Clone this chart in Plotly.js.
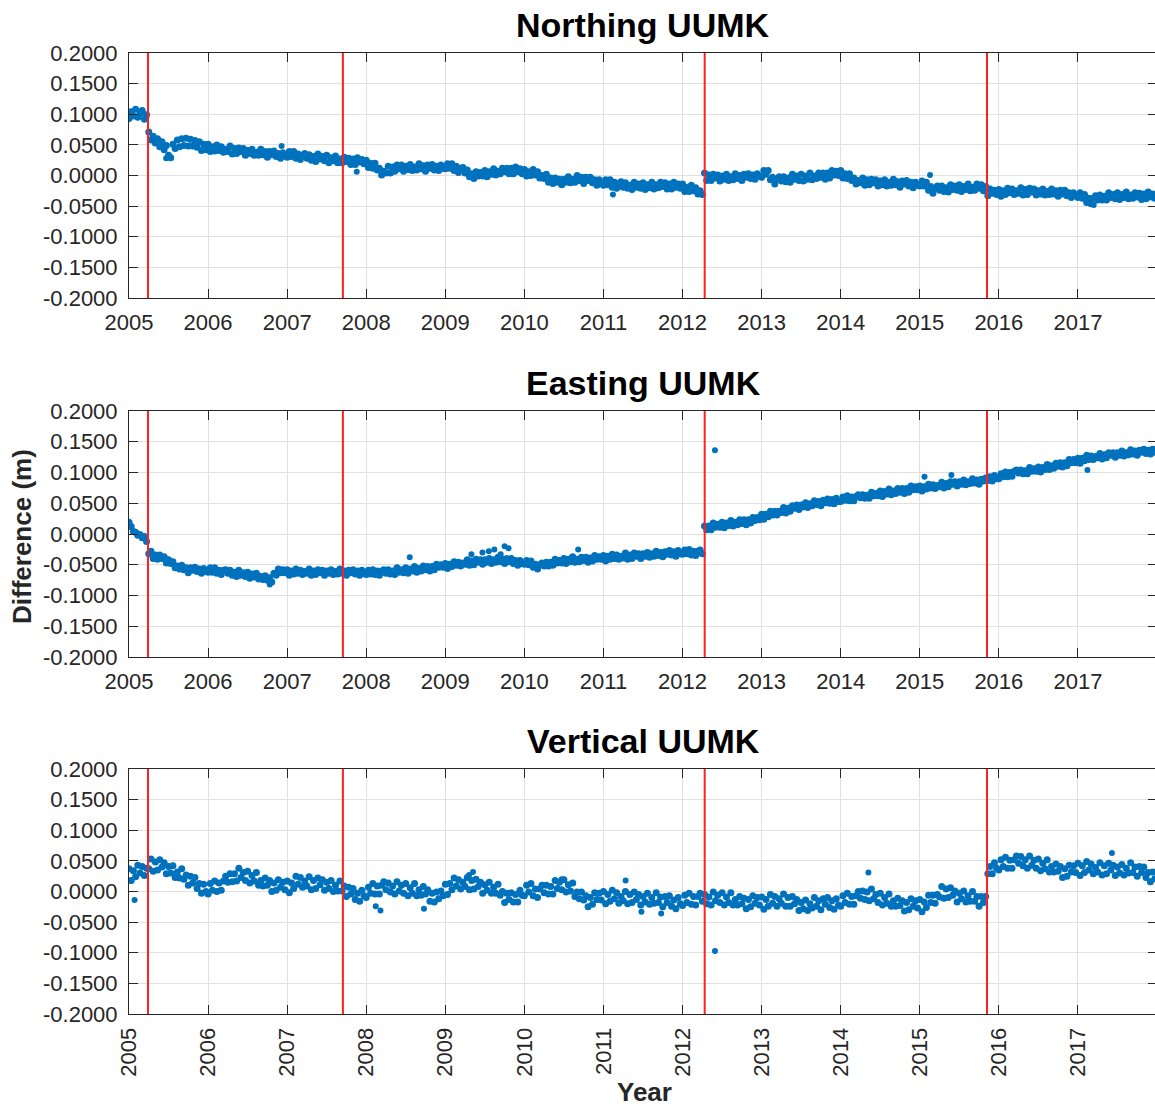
<!DOCTYPE html>
<html>
<head>
<meta charset="utf-8">
<script src="https://cdn.plot.ly/plotly-3.0.1.min.js"></script>
<style>
  html, body { margin: 0; padding: 0; background: #fff; overflow: hidden; }
  #chart { width: 1158px; height: 1107px; }
</style>
</head>
<body>
<div id="chart"></div>
<script>
// ---------------- DATA ----------------
// Time grid: samples every 1/36 year starting 2005.0 (468 samples per series)
const startYear = 2005;
const samplesPerYear = 36;

// Station offsets in millimetres (one row per year)
const northingMm = [
  93,104,97,108,95,101,106,92,99,71,58,64,53,60,47,55,42,49,33,29,51,44,58,47,60,49,61,48,59,48,57,46,55,41,51,42,
  51,39,47,40,50,41,47,38,43,39,48,35,44,36,45,39,44,33,41,36,43,33,38,33,43,34,39,30,39,34,40,31,36,28,37,32,
  30,39,31,39,28,35,26,33,36,28,34,25,31,23,35,27,31,24,33,21,29,24,32,21,27,21,30,23,28,18,27,18,29,22,26,19,
  25,13,20,12,20,9,12,1,7,4,15,4,14,7,17,11,17,7,15,10,18,8,14,9,19,11,16,7,17,12,18,9,15,8,17,12,
  11,19,12,19,8,15,5,12,13,4,9,-2,3,-5,6,-1,5,-1,8,-2,6,2,11,1,7,3,12,6,12,3,12,3,14,6,11,3,
  10,-1,6,0,10,1,6,-4,0,-5,2,-11,-4,-13,-4,-11,-6,-15,-6,-11,-2,-12,-6,-11,0,-8,-3,-13,-3,-8,-3,-12,-7,-16,-7,-13,
  -16,-7,-15,-7,-19,-11,-21,-13,-10,-19,-12,-21,-16,-23,-11,-19,-14,-21,-12,-23,-15,-20,-11,-22,-15,-20,-11,-18,-12,-22,-14,-22,-11,-19,-14,-21,
  -14,-26,-19,-26,-16,-25,-20,-30,-25,-31,4,-8,1,-8,2,-4,1,-9,-1,-6,2,-8,-2,-7,3,-5,0,-8,2,-3,3,-5,1,-6,3,-1,
  -3,8,2,8,-7,-3,-14,-6,-2,-9,-2,-10,-4,-11,2,-6,-1,-8,2,-9,-1,-6,4,-7,-1,-5,4,-3,4,-6,4,-4,8,1,7,0,
  8,-4,3,-5,3,-8,-4,-14,-8,-12,-4,-16,-7,-15,-6,-12,-7,-17,-9,-15,-7,-17,-11,-16,-6,-15,-10,-19,-9,-14,-8,-17,-11,-20,-11,-16,
  -17,-9,-17,-11,-24,-18,-29,-21,-17,-24,-17,-26,-20,-27,-15,-23,-17,-24,-15,-26,-18,-23,-14,-25,-19,-24,-14,-21,-15,-25,-18,-33,-22,-29,-24,-31,
  -23,-34,-25,-31,-21,-28,-22,-31,-25,-29,-20,-32,-23,-31,-21,-27,-22,-32,-25,-30,-22,-32,-26,-31,-22,-30,-25,-34,-24,-30,-24,-33,-28,-36,-28,-33,
  -36,-28,-37,-31,-44,-37,-46,-37,-33,-40,-32,-40,-34,-40,-28,-36,-31,-38,-28,-39,-31,-36,-27,-38,-32,-37,-28,-35,-29,-39,-30,-38,-27,-35,-30,-37
];

const eastingMm = [
  19,12,4,3,-2,-1,-6,-4,-12,-32,-28,-40,-34,-41,-34,-40,-37,-47,-42,-48,-45,-55,-52,-57,-51,-58,-55,-63,-55,-59,-54,-61,-57,-64,-56,-61,
  -62,-55,-62,-55,-64,-59,-66,-59,-58,-64,-59,-67,-62,-69,-59,-67,-63,-69,-62,-72,-65,-70,-64,-73,-69,-74,-68,-75,-71,-78,-64,-67,-57,-63,-58,-63,
  -58,-67,-60,-65,-57,-64,-59,-66,-61,-64,-57,-67,-60,-66,-58,-63,-59,-67,-60,-64,-58,-66,-61,-65,-57,-64,-60,-67,-59,-63,-58,-65,-60,-67,-59,-64,
  -66,-59,-65,-58,-66,-60,-67,-60,-58,-64,-58,-65,-60,-66,-55,-62,-58,-63,-55,-64,-57,-60,-53,-62,-56,-60,-52,-58,-53,-60,-53,-58,-49,-54,-50,-54,
  -48,-56,-49,-53,-45,-51,-46,-52,-47,-49,-42,-51,-44,-50,-41,-46,-42,-49,-42,-46,-40,-48,-42,-46,-38,-45,-41,-48,-40,-45,-40,-48,-43,-51,-43,-48,
  -49,-43,-50,-44,-54,-49,-57,-50,-47,-52,-46,-52,-46,-51,-41,-47,-43,-47,-40,-48,-41,-45,-37,-46,-41,-45,-38,-43,-38,-46,-39,-44,-35,-41,-37,-41,
  -35,-44,-36,-41,-33,-40,-34,-41,-36,-39,-31,-41,-34,-40,-31,-36,-32,-40,-32,-36,-30,-38,-32,-36,-28,-35,-30,-37,-29,-33,-27,-34,-29,-36,-27,-32,
  -33,-26,-32,-25,-34,-28,-35,-28,-26,-32,13,7,13,7,18,11,16,11,19,10,18,14,22,13,19,15,23,17,23,15,23,18,27,22,27,23,
  32,24,32,28,37,31,37,31,37,35,43,34,42,37,46,42,47,40,47,44,51,43,49,46,54,48,53,46,55,51,57,50,56,49,58,53,
  53,60,55,62,54,60,54,61,64,59,64,58,63,58,68,62,66,62,70,61,69,65,73,64,70,66,74,68,74,66,74,68,78,72,77,72,
  78,70,77,73,81,75,80,74,79,77,84,75,82,77,85,81,85,78,85,81,88,80,85,82,90,83,88,81,89,86,91,87,93,86,95,90,
  90,98,93,101,93,100,94,102,104,99,104,98,103,98,108,102,106,102,109,101,108,105,113,105,111,107,115,110,116,109,116,111,121,116,121,116,
  123,115,123,119,128,121,127,121,126,124,131,122,129,124,132,128,132,125,132,128,135,127,132,129,137,130,135,128,136,133,138,131,136,130,138,133
];

const verticalMm = [
  37,18,34,24,43,30,41,26,38,37,53,33,48,35,52,40,47,29,41,30,42,23,32,22,37,20,27,10,25,14,23,5,13,-3,12,0,
  -4,13,2,17,0,14,2,17,25,15,29,16,29,17,38,23,31,18,33,14,26,17,31,10,18,9,22,10,18,0,14,2,19,7,15,3,
  17,-2,14,5,25,12,23,7,17,9,24,3,18,5,22,11,19,2,15,5,18,0,10,1,17,1,9,-8,7,-4,5,-13,-3,-16,2,-7,
  -10,7,-3,13,-4,9,-4,10,16,3,14,-1,9,-4,16,1,10,-3,13,-7,6,-3,13,-7,3,-6,8,-4,3,-16,-3,-17,-1,-12,1,-7,
  12,-5,13,3,22,9,19,4,15,8,23,3,18,4,20,8,15,-3,11,2,15,-3,7,-3,12,-6,0,-18,-3,-13,-2,-17,-5,-17,2,-6,
  -7,10,-1,13,-7,4,-10,4,10,-2,10,-4,8,-4,18,5,15,3,19,-1,11,1,14,-8,-1,-12,-1,-14,-7,-25,-10,-21,-2,-13,-3,-14,
  0,-20,-5,-16,2,-12,-2,-19,-8,-15,0,-20,-5,-18,-1,-13,-5,-22,-8,-17,-3,-21,-10,-19,-2,-18,-9,-25,-8,-18,-7,-24,-14,-28,-10,-20,
  -23,-6,-18,-3,-21,-8,-22,-8,-3,-16,-5,-20,-9,-22,-1,-15,-6,-18,-2,-22,-9,-18,-2,-22,-13,-22,-8,-20,-11,-28,-13,-25,-7,-19,-10,-22,
  -9,-29,-13,-24,-5,-19,-8,-24,-12,-19,-4,-24,-10,-24,-8,-20,-13,-31,-18,-28,-14,-31,-20,-27,-10,-24,-15,-30,-12,-21,-10,-26,-15,-29,-12,-22,
  -24,-7,-18,-3,-21,-8,-21,-7,0,-11,1,-13,-1,-15,4,-12,-5,-18,-3,-22,-10,-19,-4,-24,-15,-24,-11,-23,-15,-32,-18,-30,-12,-24,-15,-27,
  -13,-33,-17,-26,-6,-18,-6,-19,-5,-9,8,-11,4,-10,6,-6,1,-17,-3,-12,1,-17,-7,-16,0,-16,-8,-24,-8,-18,-8,29,41,29,47,38,
  35,52,41,56,38,51,38,52,58,46,57,42,52,38,58,43,51,38,53,34,46,37,52,32,41,32,45,33,41,23,37,25,43,32,42,31,
  46,26,42,31,49,35,45,29,39,32,47,27,42,29,46,35,43,26,40,30,44,27,38,30,47,31,40,25,41,31,40,23,31,16,32,21
];

// Isolated points away from the main band (year, mm)
const northingOutlierYear = [2005.47, 2006.93, 2007.88, 2011.12, 2015.13, 2017.2];
const northingOutlierMm = [28, 48, 6, -31, 1, -48];
const eastingOutlierYear = [2012.41, 2006.78, 2008.55, 2009.33, 2009.47, 2009.55, 2009.62, 2009.7, 2009.75, 2009.8, 2010.68, 2015.06, 2015.4, 2017.12];
const eastingOutlierMm = [136, -82, -38, -33, -30, -28, -25, -33, -20, -23, -25, 93, 96, 104];
const verticalOutlierYear = [2005.07, 2012.41, 2008.12, 2008.18, 2008.73, 2009.3, 2009.35, 2010.47, 2011.28, 2011.48, 2011.73, 2014.35, 2017.43];
const verticalOutlierMm = [-14, -97, -24, -31, -28, 27, 32, 20, 18, -33, -36, 31, 63];

// Equipment change epochs (red lines)
const breakYears = [2005.24, 2007.705, 2012.28, 2015.85];

const panelTitles = ['Northing UUMK', 'Easting UUMK', 'Vertical UUMK'];
const xTickYears = [2005,2006,2007,2008,2009,2010,2011,2012,2013,2014,2015,2016,2017];
const yTickValues = [-0.2,-0.15,-0.1,-0.05,0,0.05,0.1,0.15,0.2];
const yTickLabels = ['-0.2000','-0.1500','-0.1000','-0.0500','0.0000','0.0500','0.1000','0.1500','0.2000'];
const xRange = [2005, 2018];
const yRange = [-0.2, 0.2];

// ---------------- BUILD ----------------
const H = 1107, W = 1158;
const toYears = arr => arr.map((_, i) => startYear + i / samplesPerYear);
const toM = arr => arr.map(v => v / 1000);

const blue = '#0072BD';
const mk = {color: blue, size: 7};
const mkOut = {color: blue, size: 6};
const font = 'Liberation Sans, Arial, Helvetica, sans-serif';

const series = [northingMm, eastingMm, verticalMm];
const outliers = [[northingOutlierYear, northingOutlierMm], [eastingOutlierYear, eastingOutlierMm], [verticalOutlierYear, verticalOutlierMm]];
const traces = [];
series.forEach((s, k) => {
  const suf = k === 0 ? '' : String(k + 1);
  traces.push({type: 'scatter', mode: 'markers', x: toYears(s), y: toM(s),
    xaxis: 'x' + suf, yaxis: 'y' + suf, marker: mk, hoverinfo: 'skip', showlegend: false});
  traces.push({type: 'scatter', mode: 'markers', x: outliers[k][0], y: toM(outliers[k][1]),
    xaxis: 'x' + suf, yaxis: 'y' + suf, marker: mkOut, hoverinfo: 'skip', showlegend: false});
});

// panel geometry in pixels (top, bottom)
const panelsPx = [[53, 298], [411, 657], [769, 1014]];

const layout = {
  width: W, height: H,
  margin: {l: 129, r: 1, t: 0, b: 0},
  paper_bgcolor: '#ffffff', plot_bgcolor: '#ffffff',
  showlegend: false,
  shapes: [], annotations: []
};

panelsPx.forEach((p, k) => {
  const suf = k === 0 ? '' : String(k + 1);
  const dom = [1 - p[1] / H, 1 - p[0] / H];
  const axCommon = {
    showline: true, linecolor: '#262626', linewidth: 1, mirror: 'ticks',
    ticks: 'inside', ticklen: 9, tickwidth: 1, tickcolor: '#262626',
    showgrid: true, gridcolor: '#e0e0e0', gridwidth: 1, zeroline: false,
    tickfont: {family: font, size: 22, color: '#262626'}, fixedrange: true
  };
  layout['xaxis' + suf] = Object.assign({}, axCommon, {
    domain: [0, 1], anchor: 'y' + suf, range: xRange,
    tickmode: 'array', tickvals: xTickYears, ticktext: xTickYears.map(String),
    tickangle: k === 2 ? -90 : 0, ticklabelstandoff: k === 2 ? 4 : 5
  });
  layout['yaxis' + suf] = Object.assign({}, axCommon, {
    domain: dom, anchor: 'x' + suf, range: yRange,
    tickmode: 'array', tickvals: yTickValues, ticktext: yTickLabels,
    ticklabelstandoff: 6
  });
  breakYears.forEach(b => {
    layout.shapes.push({type: 'line', xref: 'x' + suf, yref: 'y' + suf + ' domain',
      x0: b, x1: b, y0: 0, y1: 1, line: {color: '#ff2020', width: 2}, layer: 'above'});
  });
  layout.annotations.push({
    text: '<b>' + panelTitles[k] + '</b>', xref: 'paper', yref: 'paper',
    x: 0.5, y: 1 - (p[0] - 28) / H, xanchor: 'center', yanchor: 'middle',
    showarrow: false, font: {family: font, size: 34, color: '#000000'}
  });
});

layout.annotations.push({
  text: '<b>Difference (m)</b>', xref: 'paper', yref: 'paper',
  x: (22 - 129) / 1028, y: 1 - 537 / H, xanchor: 'center', yanchor: 'middle',
  textangle: -90, showarrow: false, font: {family: font, size: 26, color: '#262626'}
});
layout.annotations.push({
  text: '<b>Year</b>', xref: 'paper', yref: 'paper',
  x: (644 - 129) / 1028, y: 1 - 1092 / H, xanchor: 'center', yanchor: 'middle',
  showarrow: false, font: {family: font, size: 26, color: '#262626'}
});

Plotly.newPlot('chart', traces, layout, {staticPlot: true, displayModeBar: false});
</script>
</body>
</html>
